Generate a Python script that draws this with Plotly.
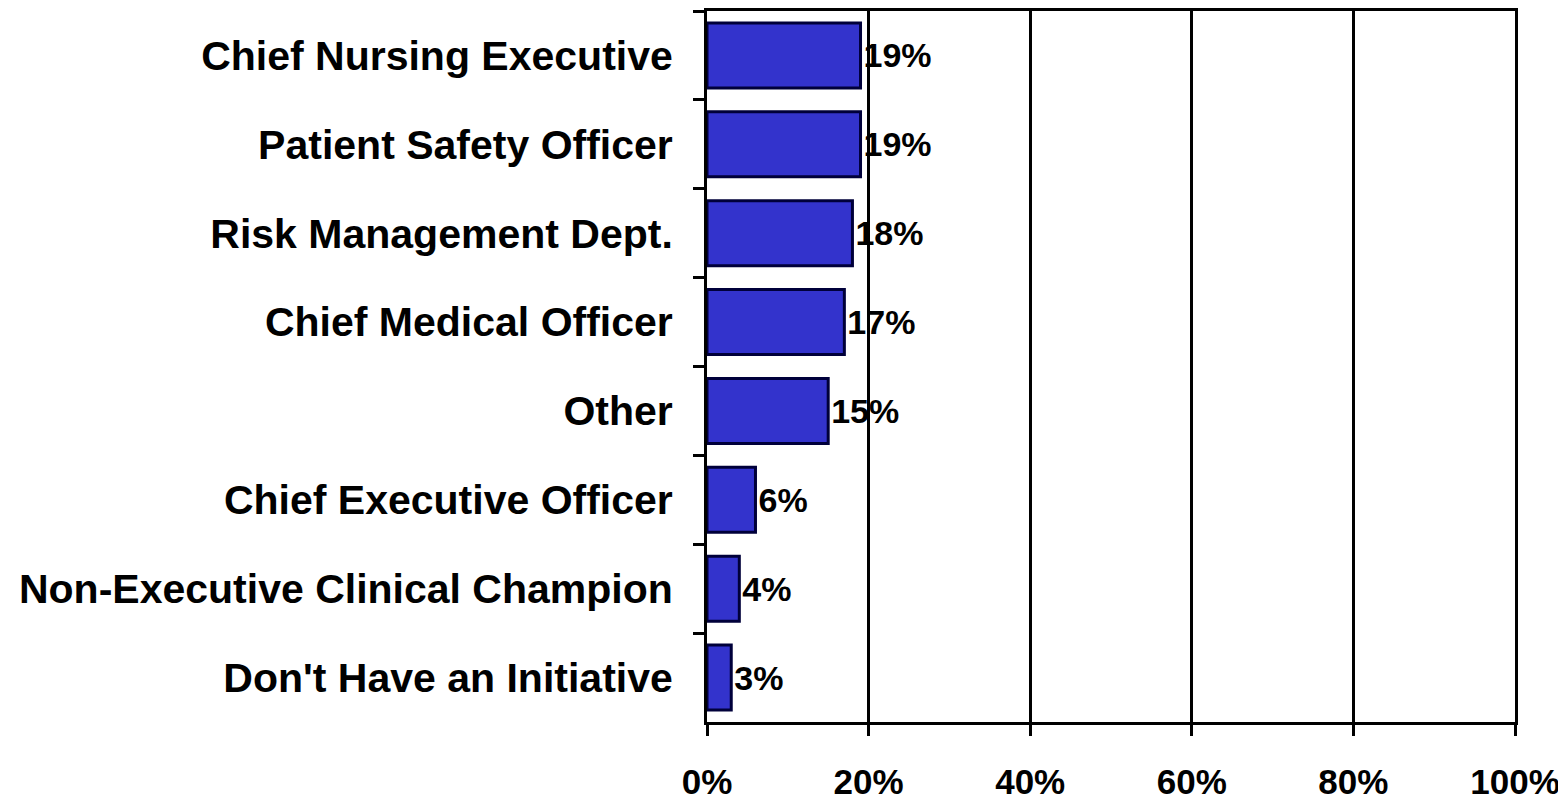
import plotly.graph_objects as go

categories = ["Chief Nursing Executive", "Patient Safety Officer", "Risk Management Dept.",
              "Chief Medical Officer", "Other", "Chief Executive Officer",
              "Non-Executive Clinical Champion", "Don't Have an Initiative"]
values = [19, 19, 18, 17, 15, 6, 4, 3]
x_ticks = [0, 20, 40, 60, 80, 100]
x_tick_labels = ["0%", "20%", "40%", "60%", "80%", "100%"]

fig = go.Figure(go.Bar(
    y=categories, x=values, orientation="h",
    marker=dict(color="#3333CC", line=dict(color="#00003A", width=3)),
    text=[f"{v}%" for v in values], textposition="outside",
    textfont=dict(family="Liberation Sans", size=34, color="black", weight="bold"),
    cliponaxis=False,
))

fig.update_layout(
    width=1558, height=792,
    margin=dict(l=699, r=51, t=3, b=78, autoexpand=False),
    paper_bgcolor="white", plot_bgcolor="white",
    bargap=0.27, showlegend=False,
    xaxis=dict(range=[0, 100], tickvals=x_ticks, ticktext=x_tick_labels,
               showgrid=True, gridcolor="black", gridwidth=3,
               showline=True, linecolor="black", linewidth=3, mirror=True,
               ticks="outside", ticklen=11, tickwidth=3, tickcolor="black",
               ticklabelstandoff=16, automargin=False,
               tickfont=dict(family="Liberation Sans", size=35, color="black", weight="bold"),
               zeroline=False),
    yaxis=dict(categoryorder="array", categoryarray=categories, autorange="reversed",
               showline=True, linecolor="black", linewidth=3, mirror=True,
               ticks="outside", ticklen=11, tickwidth=3, tickcolor="black",
               tickson="boundaries", showgrid=False,
               ticklabelstandoff=23, automargin=False,
               tickfont=dict(family="Liberation Sans", size=41, color="black", weight="bold")),
)

fig.write_html("out.html")
